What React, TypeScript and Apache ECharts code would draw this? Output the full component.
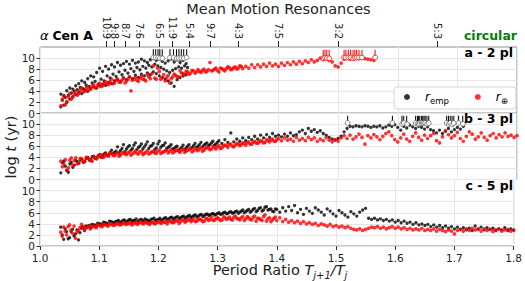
import React, { useEffect, useRef } from "react";
import * as echarts from "echarts";

const FONT = "DejaVu Sans";
const X_START = 1.035;
const X_START_HALF = 1.0375;
const STEP = 0.005;

const RES_LABELS = ["10:9", "9:8", "8:7", "7:6", "6:5", "11:9", "5:4", "9:7", "4:3", "7:5", "3:2", "5:3"];
const RES_VALUES = [10 / 9, 9 / 8, 8 / 7, 7 / 6, 6 / 5, 11 / 9, 5 / 4, 9 / 7, 4 / 3, 7 / 5, 3 / 2, 5 / 3];
const Y_TICKS = [0, 2, 4, 6, 8, 10];

// Panel a (2 planets)
const A_EMP_UP = [
  3.5, 3.2, 4.1, 4.6, 4.4, 5.0, 5.4, 5.9, 5.6, 6.3,
  6.8, 6.6, 7.4, 8.2, 7.6, 8.5, 8.0, 8.8, 8.4, 9.2,
  8.7, 9.0, 9.4, 8.9, 9.6, 9.1, 9.3, 9.8, 9.5, 9.2,
  9.7, 9.9, 9.6, 9.8, 9.4, 9.1, 9.5, 9.8, 9.3, 9.7,
  9.2, 9.6, 9.0,
];
const A_EMP_MID = [
  2.4, 2.9, 3.3, 3.7, 4.0, 4.3, 4.7, 4.5, 5.1, 4.9,
  5.5, 5.8, 5.3, 6.2, 5.9, 6.8, 6.4, 7.1, 6.7, 7.5,
  7.0, 7.8, 7.3, 8.1, 7.6, 8.3, 7.9, 8.5, 8.2, 8.7,
  8.4, 8.9, 8.6, 8.3, 8.0, 7.7, 7.4, 7.8, 8.1, 8.4,
  8.2, 8.6, 8.3,
];
const A_EMP_LOW = [
  1.2, 1.5, 2.0, 2.6, 3.0, 3.4, 3.8, 3.6, 4.2, 4.0,
  4.5, 4.8, 4.6, 5.0, 5.3, 5.1, 5.6, 5.4, 5.9, 6.2,
  5.8, 6.4, 6.1, 6.6, 6.3, 6.9, 6.5, 7.1, 6.8, 7.3,
  7.0, 7.5, 7.2, 6.8, 6.5, 6.2, 5.9, 5.5, 4.9, 6.1,
  6.5, 6.8, 7.0,
];
const A_EARTH = [
  1.4, 3.2, 2.2, 3.6, 3.0, 4.1, 3.6, 4.6, 4.0, 4.8,
  4.4, 5.2, 4.7, 5.5, 5.0, 5.7, 5.2, 6.2, 5.5, 6.1,
  5.6, 6.4, 5.8, 6.6, 6.0, 6.5, 5.8, 6.7, 6.1, 7.0,
  6.3, 8.6, 6.2, 7.6, 6.5, 5.9, 6.9, 6.3, 7.1, 6.6,
  7.7, 7.2, 7.6, 7.1, 7.8, 7.3, 7.9, 7.4, 8.0, 7.6,
  9.2, 7.8, 8.2, 7.5, 8.1, 7.7, 8.4, 7.9, 8.3, 8.0,
  8.6, 8.1, 8.5, 8.2, 8.8, 8.3, 8.8, 8.4, 8.9, 8.5,
  9.1, 8.6, 8.9, 8.5, 9.1, 8.7, 9.2, 8.8, 9.3, 8.9,
  9.4, 9.0, 9.5, 9.2, 9.7, 9.3, 9.6, 10.0, 9.7, 9.9,
  9.6, 9.3, 8.6, 8.4, 9.1, 9.8, 10.1, 9.8, 10.0, 10.2,
  9.9, 10.1, 9.9, 9.8, 9.7, 9.6,
];
const A_EARTH2 = [
  2.6, 1.6, 3.0, 2.6, 3.5, 3.3, 4.2, 3.9, 4.5, 4.3,
  4.9, 4.6, 5.1, 4.9, 5.4, 5.3, 5.7, 5.4, 6.0, 5.7,
  6.0, 5.5, 6.2, 4.1, 6.2, 6.0, 6.4, 6.2, 5.9, 6.6,
  7.2, 6.4, 8.2, 6.2, 7.0, 6.5, 5.5, 6.6, 6.9, 6.6,
  7.3, 7.0, 7.5, 7.3, 7.7, 7.5, 7.6, 7.8, 7.5, 7.9,
  7.7, 8.0, 7.8, 8.2, 7.9, 8.1, 8.3, 8.0, 8.4, 8.2, 8.5,
];
const A_EMP_LIMITS = [1.190, 1.194, 1.198, 1.201, 1.205, 1.218, 1.224, 1.229, 1.233, 1.237, 1.241, 1.246];
const A_EARTH_LIMITS = [1.475, 1.478, 1.481, 1.485, 1.510, 1.513, 1.517, 1.521, 1.525, 1.528, 1.531, 1.535, 1.540, 1.562];

// Panel b (3 planets)
const B_EMP = [
  1.2, 3.3, 1.6, 2.8, 2.2, 3.4, 2.9, 3.7, 3.3, 4.0,
  3.6, 4.2, 3.9, 4.5, 4.2, 4.8, 4.5, 5.3, 4.9, 5.9,
  5.2, 6.3, 5.5, 6.1, 5.6, 6.6, 5.8, 6.4, 5.9, 6.8,
  6.0, 6.5, 5.7, 6.9, 6.1, 6.6, 5.8, 6.3, 5.6, 6.0,
  5.5, 6.2, 5.7, 6.3, 5.8, 6.5, 6.0, 6.7, 6.2, 6.6,
  6.3, 6.9, 6.4, 7.0, 6.5, 7.2, 6.7, 8.4, 6.8, 7.3,
  6.9, 7.5, 7.0, 7.6, 7.2, 7.8, 7.3, 8.0, 7.5, 8.1,
  7.6, 8.3, 7.8, 8.0, 7.7, 8.2, 7.8, 8.4, 7.9, 8.1,
  8.6, 8.9, 8.3, 9.2, 8.7, 9.0, 8.5, 8.8, 8.3, 8.0,
  7.6, 7.3, 7.1, 7.4, 7.8, 8.6, 9.2, 9.6, 9.5, 9.7,
  9.6, 9.5, 9.7, 9.6, 9.4, 9.6, 9.5, 9.7, 9.3, 9.5,
  9.8, 9.6, 9.9, 9.4, 8.9, 9.6, 9.3, 9.8, 9.5, 9.2,
  9.6, 9.4, 9.1, 9.5, 9.0, 8.8, 8.4, 8.9, 8.3, 8.7,
  9.2, 8.6, 9.0, 9.4, 9.1, 9.6,
];
const B_EMP2 = [
  3.0, 2.4, 1.3, 3.1, 2.6, 3.2, 3.5, 3.1, 3.8, 3.5,
  4.1, 3.8, 4.3, 4.0, 4.6, 4.3, 4.9, 4.6, 5.1, 4.8,
  5.6, 5.0, 5.9, 5.3, 6.2, 5.4, 6.0, 5.5, 6.3, 5.6,
  6.1, 5.4, 6.4, 5.8, 6.2, 5.6, 6.0, 5.5, 5.9, 5.3,
  5.8, 5.4, 6.0, 5.6, 6.1, 5.8, 6.3, 5.9, 6.4, 6.1,
  6.6, 6.2, 6.7,
];
const B_EARTH = [
  3.3, 2.8, 1.7, 3.5, 2.6, 3.9, 3.0, 3.6, 3.2, 3.9,
  3.4, 4.1, 3.7, 4.3, 4.0, 4.6, 4.2, 4.7, 4.3, 4.8,
  4.4, 4.9, 4.5, 5.0, 4.6, 5.1, 4.6, 5.0, 4.7, 5.2,
  4.8, 5.1, 4.7, 5.3, 4.9, 5.2, 4.8, 5.4, 5.0, 5.3,
  4.9, 5.5, 5.1, 5.4, 5.0, 5.6, 5.2, 5.7, 5.3, 5.8,
  5.4, 6.0, 5.5, 6.1, 5.7, 6.2, 5.8, 6.4, 5.9, 6.5,
  6.1, 6.6, 6.2, 6.8, 6.4, 6.9, 6.5, 7.0, 6.6, 7.2,
  6.8, 7.3, 6.9, 7.4, 7.0, 7.5, 7.1, 7.3, 6.9, 7.6,
  7.1, 7.4, 7.0, 7.6, 7.2, 7.5, 6.9, 7.3, 7.0, 7.6,
  7.1, 6.8, 7.2, 6.9, 7.5, 7.9, 7.4, 8.0, 7.3, 7.7,
  8.2, 7.6, 6.4, 7.9, 7.5, 8.1, 7.7, 7.2, 7.8, 8.3,
  8.6, 7.9, 7.2, 6.8, 7.5, 8.2, 7.3, 6.9, 7.8, 8.4,
  7.6, 7.1, 8.0, 7.4, 7.9, 8.3, 7.0, 6.6, 7.7, 8.8,
  8.1, 7.5, 7.9, 8.5, 7.4, 6.9, 7.8, 8.6, 8.2, 7.3,
  7.7, 8.4, 7.6, 7.1, 7.9, 8.3, 7.5, 8.1, 7.7, 8.4,
  7.8, 8.0, 7.6, 7.9,
];
const B_EARTH2 = [
  2.3, 3.6, 2.1, 3.9, 3.4, 2.8, 3.8, 3.3, 4.0, 3.7,
  3.3, 3.9, 4.1, 4.5, 4.1, 4.4, 4.7, 4.4, 4.6, 4.2,
  4.7, 4.6, 4.8, 4.4, 4.9, 4.7, 5.1, 4.5, 4.9, 4.6,
  5.0, 4.8, 5.1, 4.7, 5.0, 5.3, 5.1, 4.8, 5.2, 5.1,
  5.3, 4.9, 5.3, 5.6, 5.2, 5.4, 5.5, 5.1, 5.6, 5.7,
  5.5, 5.8, 5.9, 5.6, 6.0, 6.1, 6.3, 6.0, 6.2, 6.4,
  6.3, 6.5, 6.6, 6.4, 6.7, 6.6, 6.8, 6.9, 6.7, 7.0,
  7.1, 6.9, 7.2,
];
const B_EMP_LIMITS = [
  1.516, 1.591, 1.607, 1.610, 1.615, 1.630, 1.633, 1.635, 1.637, 1.640, 1.642,
  1.644, 1.646, 1.649, 1.652, 1.682, 1.685, 1.688, 1.691, 1.694, 1.702, 1.709,
];

// Panel c (5 planets)
const C_EMP = [
  3.4, 1.2, 2.6, 1.5, 3.0, 2.2, 1.1, 3.2, 2.8, 3.5,
  3.3, 3.8, 3.6, 4.0, 3.8, 4.2, 4.0, 4.4, 4.1, 4.5,
  4.2, 4.6, 4.3, 4.7, 4.4, 4.6, 4.4, 4.8, 4.5, 4.7,
  4.5, 4.9, 4.6, 4.8, 4.6, 5.0, 4.7, 5.1, 4.8, 5.2,
  4.9, 5.3, 5.0, 5.4, 5.1, 5.5, 5.2, 5.6, 5.3, 5.7,
  5.5, 5.8, 5.6, 5.9, 5.7, 6.0, 5.8, 6.1, 5.9, 6.2,
  5.9, 6.3, 6.0, 6.4, 6.1, 6.6, 6.2, 6.8, 6.3, 7.0,
  6.5, 6.7, 6.2, 6.6, 6.1, 6.9, 6.3, 7.1, 6.4, 7.3,
  6.0, 6.6, 5.7, 6.8, 6.3, 5.9, 6.9, 6.5, 6.1, 5.6,
  6.7, 6.3, 5.8, 5.4, 6.4, 6.0, 5.6, 5.2, 6.2, 5.8,
  5.4, 6.1, 6.5, 6.8, 5.0, 4.8, 5.0, 4.7, 4.9, 4.6,
  4.8, 4.5, 4.7, 4.3, 4.6, 4.2, 4.5, 4.1, 4.3, 3.9,
  4.2, 3.8, 4.0, 3.7, 3.9, 3.5, 3.8, 3.4, 3.7, 3.3,
  3.6, 3.2, 3.5, 3.1, 3.4, 3.0, 3.3, 2.9, 3.2, 2.8,
  3.6, 3.1, 3.4, 2.9, 3.3, 3.0, 3.2, 2.8, 3.1, 2.9,
  3.3, 2.8, 3.1, 2.9,
];
const C_EMP2 = [
  2.0, 3.1, 1.3, 2.6, 1.8, 2.9, 2.4, 3.4, 3.6, 3.7,
  3.9, 3.8, 4.1, 4.0, 4.3, 4.1, 4.5, 4.3, 4.4, 4.6,
  4.4, 4.7, 4.5, 4.8, 4.6, 4.9, 4.6, 4.7, 4.9, 4.6,
  4.8, 5.0, 4.7, 5.0, 4.8, 5.1, 4.9, 5.2, 5.0, 5.3,
  5.1, 5.4, 5.2, 5.5, 5.3, 5.6, 5.4, 5.7, 5.5, 5.8,
  5.6, 5.9, 5.7, 6.0, 5.8, 6.1, 5.9, 6.2, 6.0, 6.3,
  6.1, 6.5, 6.2, 6.6, 6.3, 6.8, 6.4, 6.9, 6.5, 7.1,
  6.6, 6.3, 6.7,
];
const C_EARTH = [
  2.5, 3.4, 2.0, 3.8, 2.3, 1.4, 2.8, 3.9, 3.0, 3.4,
  3.1, 3.6, 3.3, 3.8, 3.5, 3.9, 3.6, 4.0, 3.7, 4.1,
  3.8, 4.2, 3.9, 4.1, 3.8, 4.2, 3.9, 4.3, 4.0, 4.2,
  3.9, 4.3, 4.0, 4.4, 4.1, 4.3, 4.0, 4.5, 4.2, 4.6,
  4.1, 4.7, 4.3, 4.8, 4.4, 4.9, 4.5, 4.8, 4.4, 5.0,
  4.6, 5.2, 4.7, 5.1, 4.6, 5.3, 4.8, 5.2, 4.7, 5.4,
  4.9, 5.1, 4.6, 5.3, 4.8, 5.2, 4.5, 5.0, 4.6, 5.6,
  4.9, 4.4, 5.0, 4.6, 5.1, 4.4, 4.8, 4.3, 4.6, 4.2,
  4.5, 4.1, 4.4, 4.0, 4.2, 3.9, 4.1, 3.7, 4.0, 3.8,
  3.6, 3.9, 3.5, 3.7, 3.4, 3.6, 3.3, 3.5, 3.2, 3.0,
  2.9, 3.1, 2.8, 3.0, 3.2, 3.4, 3.3, 3.5, 3.2, 3.4,
  3.1, 3.3, 3.5, 3.2, 3.4, 3.1, 3.3, 3.0, 3.2, 2.9,
  3.1, 2.9, 3.2, 2.8, 3.0, 2.8, 3.1, 2.7, 3.0, 2.8,
  2.6, 2.9, 2.7, 2.2, 2.8, 3.0, 2.7, 3.1, 2.8, 3.2,
  2.9, 3.0, 2.7, 3.1, 2.8, 3.0, 2.6, 2.9, 3.1, 2.7,
  2.9, 3.0, 2.7, 2.8,
];
const C_EARTH2 = [
  1.8, 2.7, 3.5, 2.9, 3.6, 2.5, 3.3, 3.5, 3.2, 3.6,
  3.4, 3.5, 3.7, 3.6, 3.8, 3.7, 3.9, 3.8, 3.9, 4.0,
  3.9, 4.1, 4.0, 4.2, 4.0, 4.1, 4.2, 4.1, 4.3, 4.1,
  4.2, 4.1, 4.3, 4.2, 4.4, 4.3, 4.5, 4.3, 4.4, 4.5,
  4.4, 4.6, 4.5, 4.7, 4.6, 4.4, 4.8, 4.7, 4.5, 4.9,
  4.8, 4.6, 5.0, 4.9, 4.7, 5.1, 5.0, 4.8, 5.2, 5.0,
  4.7, 5.3, 4.9, 5.1, 4.7, 5.4, 5.0, 4.8, 5.3, 4.5,
  5.1, 4.7, 5.2,
];

const BLACK = "#000000";
const RED = "#ff0000";

function pts(ys: number[], x0: number): number[][] {
  return ys.map((y, i) => [Math.round((x0 + i * STEP) * 10000) / 10000, y]);
}

function scatter(name: string, ys: number[], x0: number, gi: number, color: string, size: number) {
  return {
    type: "scatter",
    name,
    xAxisIndex: gi,
    yAxisIndex: gi,
    data: pts(ys, x0),
    symbol: "circle",
    symbolSize: size,
    itemStyle: { color },
    silent: true,
  };
}

function limits(xs: number[], yC: number, yT: number, gi: number, color: string, ring: string) {
  return {
    type: "custom",
    xAxisIndex: gi,
    yAxisIndex: gi,
    silent: true,
    z: 3,
    data: xs.map((x) => [x, yC, yT]),
    renderItem: (_p: any, api: any) => {
      const p0 = api.coord([api.value(0), api.value(1)]);
      const p1 = api.coord([api.value(0), api.value(2)]);
      return {
        type: "group",
        children: [
          { type: "line", shape: { x1: p0[0], y1: p0[1], x2: p1[0], y2: p1[1] }, style: { stroke: color, lineWidth: 1 } },
          { type: "circle", shape: { cx: p0[0], cy: p0[1], r: 2.4 }, style: { fill: "#fff", stroke: ring, lineWidth: 0.8 } },
        ],
      };
    },
  };
}

function resAxis(values: number[]) {
  return {
    type: "value",
    gridIndex: 0,
    position: "top",
    offset: 0,
    min: 1.0,
    max: 1.8,
    axisLine: { show: false },
    splitLine: { show: false },
    axisTick: { show: true, customValues: values, length: 6, inside: false, lineStyle: { color: "#222" } },
    axisLabel: {
      show: true,
      customValues: values,
      rotate: 90,
      margin: 8,
      hideOverlap: false,
      showMinLabel: true,
      showMaxLabel: true,
      fontFamily: FONT,
      fontSize: 10,
      color: "#222",
      formatter: (v: number) => {
        const idx = RES_VALUES.findIndex((r) => Math.abs(r - v) < 1e-6);
        return idx >= 0 ? RES_LABELS[idx] : "";
      },
    },
  };
}

const GRID_TOPS = [47, 113, 179.5];
const GRID_H = 66.5;

export default function App() {
  const ref = useRef<HTMLDivElement>(null);
  useEffect(() => {
    document.body.style.margin = "0";
    if (!ref.current) return;
    const chart = echarts.init(ref.current, undefined, { renderer: "svg" });

    const grids = GRID_TOPS.map((t) => ({
      left: 40,
      right: 8,
      top: t,
      height: GRID_H,
      show: true,
      borderColor: "#8f8f8f",
      borderWidth: 1,
      backgroundColor: "transparent",
    }));

    const xAxes: any[] = [0, 1, 2].map((gi) => ({
      type: "value",
      gridIndex: gi,
      min: 1.0,
      max: 1.8,
      interval: 0.1,
      axisLine: { show: false },
      axisTick: { show: gi === 2, length: 4, lineStyle: { color: "#333" } },
      axisLabel: {
        show: gi === 2,
        fontFamily: FONT,
        fontSize: 10.5,
        color: "#222",
        margin: 6,
        formatter: (v: number) => v.toFixed(1),
      },
      splitLine: { show: true, lineStyle: { color: "#e6e6e6", width: 1 } },
    }));
    // resonance labels split over two top axes so neighbouring labels are never auto-hidden
    xAxes.push(resAxis(RES_VALUES.filter((_, i) => i % 2 === 0)));
    xAxes.push(resAxis(RES_VALUES.filter((_, i) => i % 2 === 1)));

    const yAxes = [0, 1, 2].map((gi) => ({
      type: "value",
      gridIndex: gi,
      min: 0,
      max: 12,
      interval: 2,
      axisLine: { show: false },
      axisTick: { show: true, customValues: Y_TICKS, length: 3.5, lineStyle: { color: "#333" } },
      axisLabel: {
        customValues: Y_TICKS,
        showMinLabel: true,
        fontFamily: FONT,
        fontSize: 10.5,
        color: "#222",
        margin: 5,
      },
      splitLine: { show: true, lineStyle: { color: "#e6e6e6", width: 1 } },
    }));

    const EMP = "emp";
    const EARTH = "earth";
    const BS = 3.3;
    const RS = 3.7;
    const series: any[] = [
      scatter(EMP, A_EMP_UP, X_START, 0, BLACK, BS),
      scatter(EMP, A_EMP_MID, X_START_HALF, 0, BLACK, BS),
      scatter(EMP, A_EMP_LOW, X_START, 0, BLACK, BS),
      scatter(EARTH, A_EARTH, X_START, 0, RED, RS),
      scatter(EARTH, A_EARTH2, X_START_HALF, 0, RED, RS),
      limits(A_EMP_LIMITS, 10.1, 11.6, 0, "#000", "#666"),
      limits(A_EARTH_LIMITS, 10.1, 11.5, 0, RED, RED),

      scatter(EMP, B_EMP, X_START, 1, BLACK, BS),
      scatter(EMP, B_EMP2, X_START_HALF, 1, BLACK, BS),
      scatter(EARTH, B_EARTH, X_START, 1, RED, RS),
      scatter(EARTH, B_EARTH2, X_START_HALF, 1, RED, RS),
      limits(B_EMP_LIMITS, 10.2, 11.5, 1, "#000", "#666"),

      scatter(EMP, C_EMP, X_START, 2, BLACK, BS),
      scatter(EMP, C_EMP2, X_START_HALF, 2, BLACK, BS),
      scatter(EARTH, C_EARTH, X_START, 2, RED, RS),
      scatter(EARTH, C_EARTH2, X_START_HALF, 2, RED, RS),
    ];

    chart.setOption({
      animation: false,
      backgroundColor: "#fff",
      grid: grids,
      xAxis: xAxes,
      yAxis: yAxes,
      series,
      legend: {
        left: 394,
        top: 87,
        orient: "horizontal",
        padding: [4, 8, 4, 10],
        itemGap: 26,
        itemWidth: 6,
        itemHeight: 6,
        backgroundColor: "rgba(255,255,255,0.85)",
        borderColor: "#d5d5d5",
        borderWidth: 1,
        borderRadius: 3,
        data: [
          { name: EMP, icon: "circle", itemStyle: { color: BLACK } },
          { name: EARTH, icon: "circle", itemStyle: { color: RED } },
        ],
        formatter: (n: string) => (n === EMP ? "{i|r}{s|emp}" : "{i|r}{s|⊕}"),
        textStyle: {
          fontFamily: FONT,
          rich: {
            i: { fontFamily: FONT, fontSize: 12, fontStyle: "italic", lineHeight: 16, padding: [0, 0, 0, 10], color: "#000" },
            s: { fontFamily: FONT, fontSize: 8.5, lineHeight: 10, verticalAlign: "bottom", color: "#000" },
          },
        },
      },
      graphic: [
        {
          type: "text",
          x: 278.5,
          y: 9,
          style: { text: "Mean Motion Resonances", fontFamily: FONT, fontSize: 14.5, fill: "#222", align: "center", verticalAlign: "middle" },
        },
        {
          type: "text",
          x: 40,
          y: 35,
          style: {
            text: "{a|α} {b|Cen A}",
            fontFamily: FONT,
            align: "left",
            verticalAlign: "middle",
            rich: {
              a: { fontFamily: FONT, fontSize: 13, fontStyle: "italic", fill: "#000" },
              b: { fontFamily: FONT, fontSize: 12.5, fontWeight: "bold", fill: "#000" },
            },
          },
        },
        {
          type: "text",
          x: 517,
          y: 35,
          style: { text: "circular", fontFamily: FONT, fontSize: 12.5, fontWeight: "bold", fill: "#008000", align: "right", verticalAlign: "middle" },
        },
        ...[
          { t: "a - 2 pl", y: 52 },
          { t: "b - 3 pl", y: 118.5 },
          { t: "c - 5 pl", y: 185 },
        ].map((p) => ({
          type: "text",
          x: 513,
          y: p.y,
          z: 10,
          style: { text: p.t, fontFamily: FONT, fontSize: 12.5, fontWeight: "bold", fill: "#000", align: "right", verticalAlign: "middle" },
        })),
        {
          type: "text",
          x: 280,
          y: 270,
          style: {
            text: "{n|Period Ratio }{i|T}{s|j+1}{i|/T}{s|j}",
            fontFamily: FONT,
            align: "center",
            verticalAlign: "middle",
            rich: {
              n: { fontFamily: FONT, fontSize: 14.5, lineHeight: 20, fill: "#222" },
              i: { fontFamily: FONT, fontSize: 14.5, lineHeight: 20, fontStyle: "italic", fill: "#222" },
              s: { fontFamily: FONT, fontSize: 10, lineHeight: 12, verticalAlign: "bottom", fontStyle: "italic", fill: "#222" },
            },
          },
        },
        {
          type: "text",
          x: 11,
          y: 147,
          rotation: Math.PI / 2,
          style: {
            text: "{n|log }{i|t}{n| (yr)}",
            fontFamily: FONT,
            align: "center",
            verticalAlign: "middle",
            rich: {
              n: { fontFamily: FONT, fontSize: 14.5, fill: "#222" },
              i: { fontFamily: FONT, fontSize: 14.5, fontStyle: "italic", fill: "#222" },
            },
          },
        },
      ],
    });
    return () => chart.dispose();
  }, []);
  return <div ref={ref} style={{ width: 525, height: 281 }} />;
}
